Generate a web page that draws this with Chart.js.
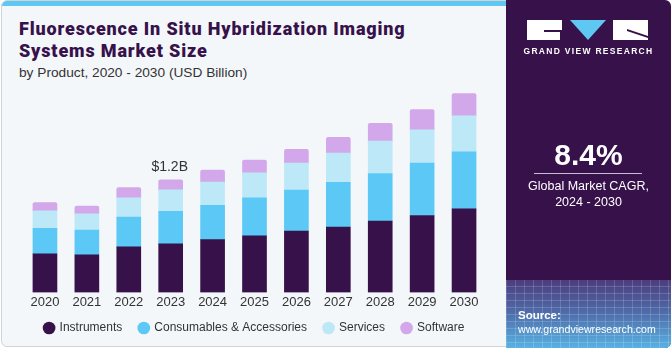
<!DOCTYPE html>
<html><head><meta charset="utf-8">
<script src="https://cdn.jsdelivr.net/npm/chart.js@4.4.1/dist/chart.umd.min.js"></script>
<style>
html,body{margin:0;padding:0;width:671px;height:350px;overflow:hidden;background:#fff;font-family:"Liberation Sans",Arial,sans-serif;}
#card{position:absolute;left:1px;top:0;width:668px;height:347px;background:#f3f7fa;border:1px solid #cfd4d8;border-radius:6px;overflow:hidden;box-sizing:border-box;}
#stripe{position:absolute;left:0;top:0;width:506px;height:5px;background:#5ec8f2;}
#title{position:absolute;left:17px;top:17px;font-family:"Roboto",sans-serif;font-weight:900;font-size:18px;line-height:22px;color:#37124a;letter-spacing:0.85px;}
#sub{position:absolute;left:17px;top:64px;font-size:13.7px;color:#333;}
#panel{position:absolute;left:506px;top:0;width:165px;height:348px;background:#37114a;border-top-right-radius:6px;border-bottom-right-radius:6px;overflow:hidden;}
#grid{position:absolute;left:0;top:280px;width:165px;height:70px;
 background-image:
  repeating-linear-gradient(90deg, rgba(255,255,255,0.16) 0 1px, transparent 1px 9px),
  repeating-linear-gradient(0deg, rgba(255,255,255,0.16) 0 1px, transparent 1px 7px),
  linear-gradient(to bottom,#4b3d7e 0%,#4f6aa8 45%,#58b6e6 100%);}
#wrap{position:absolute;left:0;top:80px;width:506px;height:270px;}
.w{position:absolute;color:#fff;}
</style></head><body>
<div id="card"><div id="stripe"></div>
<div id="title">Fluorescence In Situ Hybridization Imaging<br>Systems Market Size</div>
<div id="sub">by Product, 2020 - 2030 (USD Billion)</div>
<div id="wrap"><canvas id="c" width="506" height="270"></canvas></div>
</div>
<div id="panel">
<div id="grid"></div>
<svg style="position:absolute;left:21px;top:20px" width="121" height="20" viewBox="0 0 121 20">
<rect x="0" y="0" width="35" height="20" fill="#fff"/>
<rect x="17" y="10" width="18" height="2" fill="#37114a"/>
<rect x="33" y="10" width="2" height="10" fill="#37114a"/>
<polygon points="43,0 79,0 61,20" fill="#5ec8f2"/>
<rect x="86" y="0" width="35" height="20" fill="#fff"/>
<polygon points="100,9 121,16 121,18 100,11" fill="#37114a"/>
</svg>
<div class="w" style="left:0;width:165px;top:46px;text-align:center;font-size:8.5px;font-weight:bold;letter-spacing:1.3px;">GRAND VIEW RESEARCH</div>
<div class="w" style="left:0;width:165px;top:138px;text-align:center;font-size:30px;font-weight:bold;">8.4%</div>
<div style="position:absolute;left:28px;top:173px;width:108px;height:1px;background:#c8bcd4;"></div>
<div class="w" style="left:0;width:165px;top:178px;text-align:center;font-size:12.5px;line-height:16px;">Global Market CAGR,<br>2024 - 2030</div>
<div class="w" style="left:12px;top:309px;font-size:11.5px;font-weight:bold;">Source:</div>
<div class="w" style="left:12px;top:323px;font-size:10.6px;">www.grandviewresearch.com</div>
</div>
<script>
const years = ["2020","2021","2022","2023","2024","2025","2026","2027","2028","2029","2030"];
const instruments = [0.412,0.401,0.486,0.517,0.563,0.602,0.654,0.697,0.760,0.820,0.890];
const consumables = [0.271,0.264,0.317,0.348,0.366,0.405,0.436,0.475,0.507,0.559,0.609];
const services = [0.186,0.172,0.204,0.229,0.246,0.267,0.288,0.313,0.345,0.355,0.383];
const software = [0.088,0.084,0.109,0.106,0.130,0.137,0.148,0.169,0.190,0.215,0.236];
const annotYear = "2023";
const annotText = "$1.2B";

const annot = {
  id:'annot',
  afterDatasetsDraw(chart){
    const ctx = chart.ctx;
    const i = years.indexOf(annotYear);
    const x = chart.scales.x.getPixelForValue(i);
    const tot = instruments[i]+consumables[i]+services[i]+software[i];
    const y = chart.scales.y.getPixelForValue(tot);
    ctx.save();
    ctx.font = '14px "Liberation Sans", Arial, sans-serif';
    ctx.fillStyle = '#333';
    ctx.textAlign = 'center';
    ctx.textBaseline = 'bottom';
    ctx.fillText(annotText, x - 1, y - 6);
    ctx.restore();
  }
};
const legendShift = {
  id:'legendShift',
  afterLayout(chart){
    if(chart.legend){ chart.legend.top -= 7; chart.legend.bottom -= 7; }
  }
};
const mk = (label,data,color,top)=>({label,data,backgroundColor:color,borderColor:color,barThickness:24,
  borderRadius: top?{topLeft:2,topRight:2}:0, borderSkipped: top?'bottom':'start'});
new Chart(document.getElementById('c'),{
  type:'bar',
  data:{labels:years,datasets:[
    mk('Instruments',instruments,'#37114a'),
    mk('Consumables & Accessories',consumables,'#5bc8f5'),
    mk('Services',services,'#bde8f8'),
    mk('Software',software,'#d3a8ea',true)
  ]},
  options:{
    responsive:false,animation:false,
    layout:{padding:{left:22,right:23,top:5,bottom:0}},
    plugins:{
      tooltip:{enabled:false},
      legend:{position:'bottom',labels:{usePointStyle:true,pointStyle:'circle',boxWidth:9,boxHeight:9,padding:17,color:'#333',font:{size:12,family:'"Liberation Sans", Arial, sans-serif'}}}
    },
    scales:{
      x:{stacked:true,grid:{display:false,drawTicks:false},border:{display:false},
         ticks:{color:'#333',padding:2,font:{size:13,family:'"Liberation Sans", Arial, sans-serif'}}},
      y:{stacked:true,display:false,min:0,max:2.2}
    }
  },
  plugins:[annot,legendShift]
});
</script>
</body></html>
